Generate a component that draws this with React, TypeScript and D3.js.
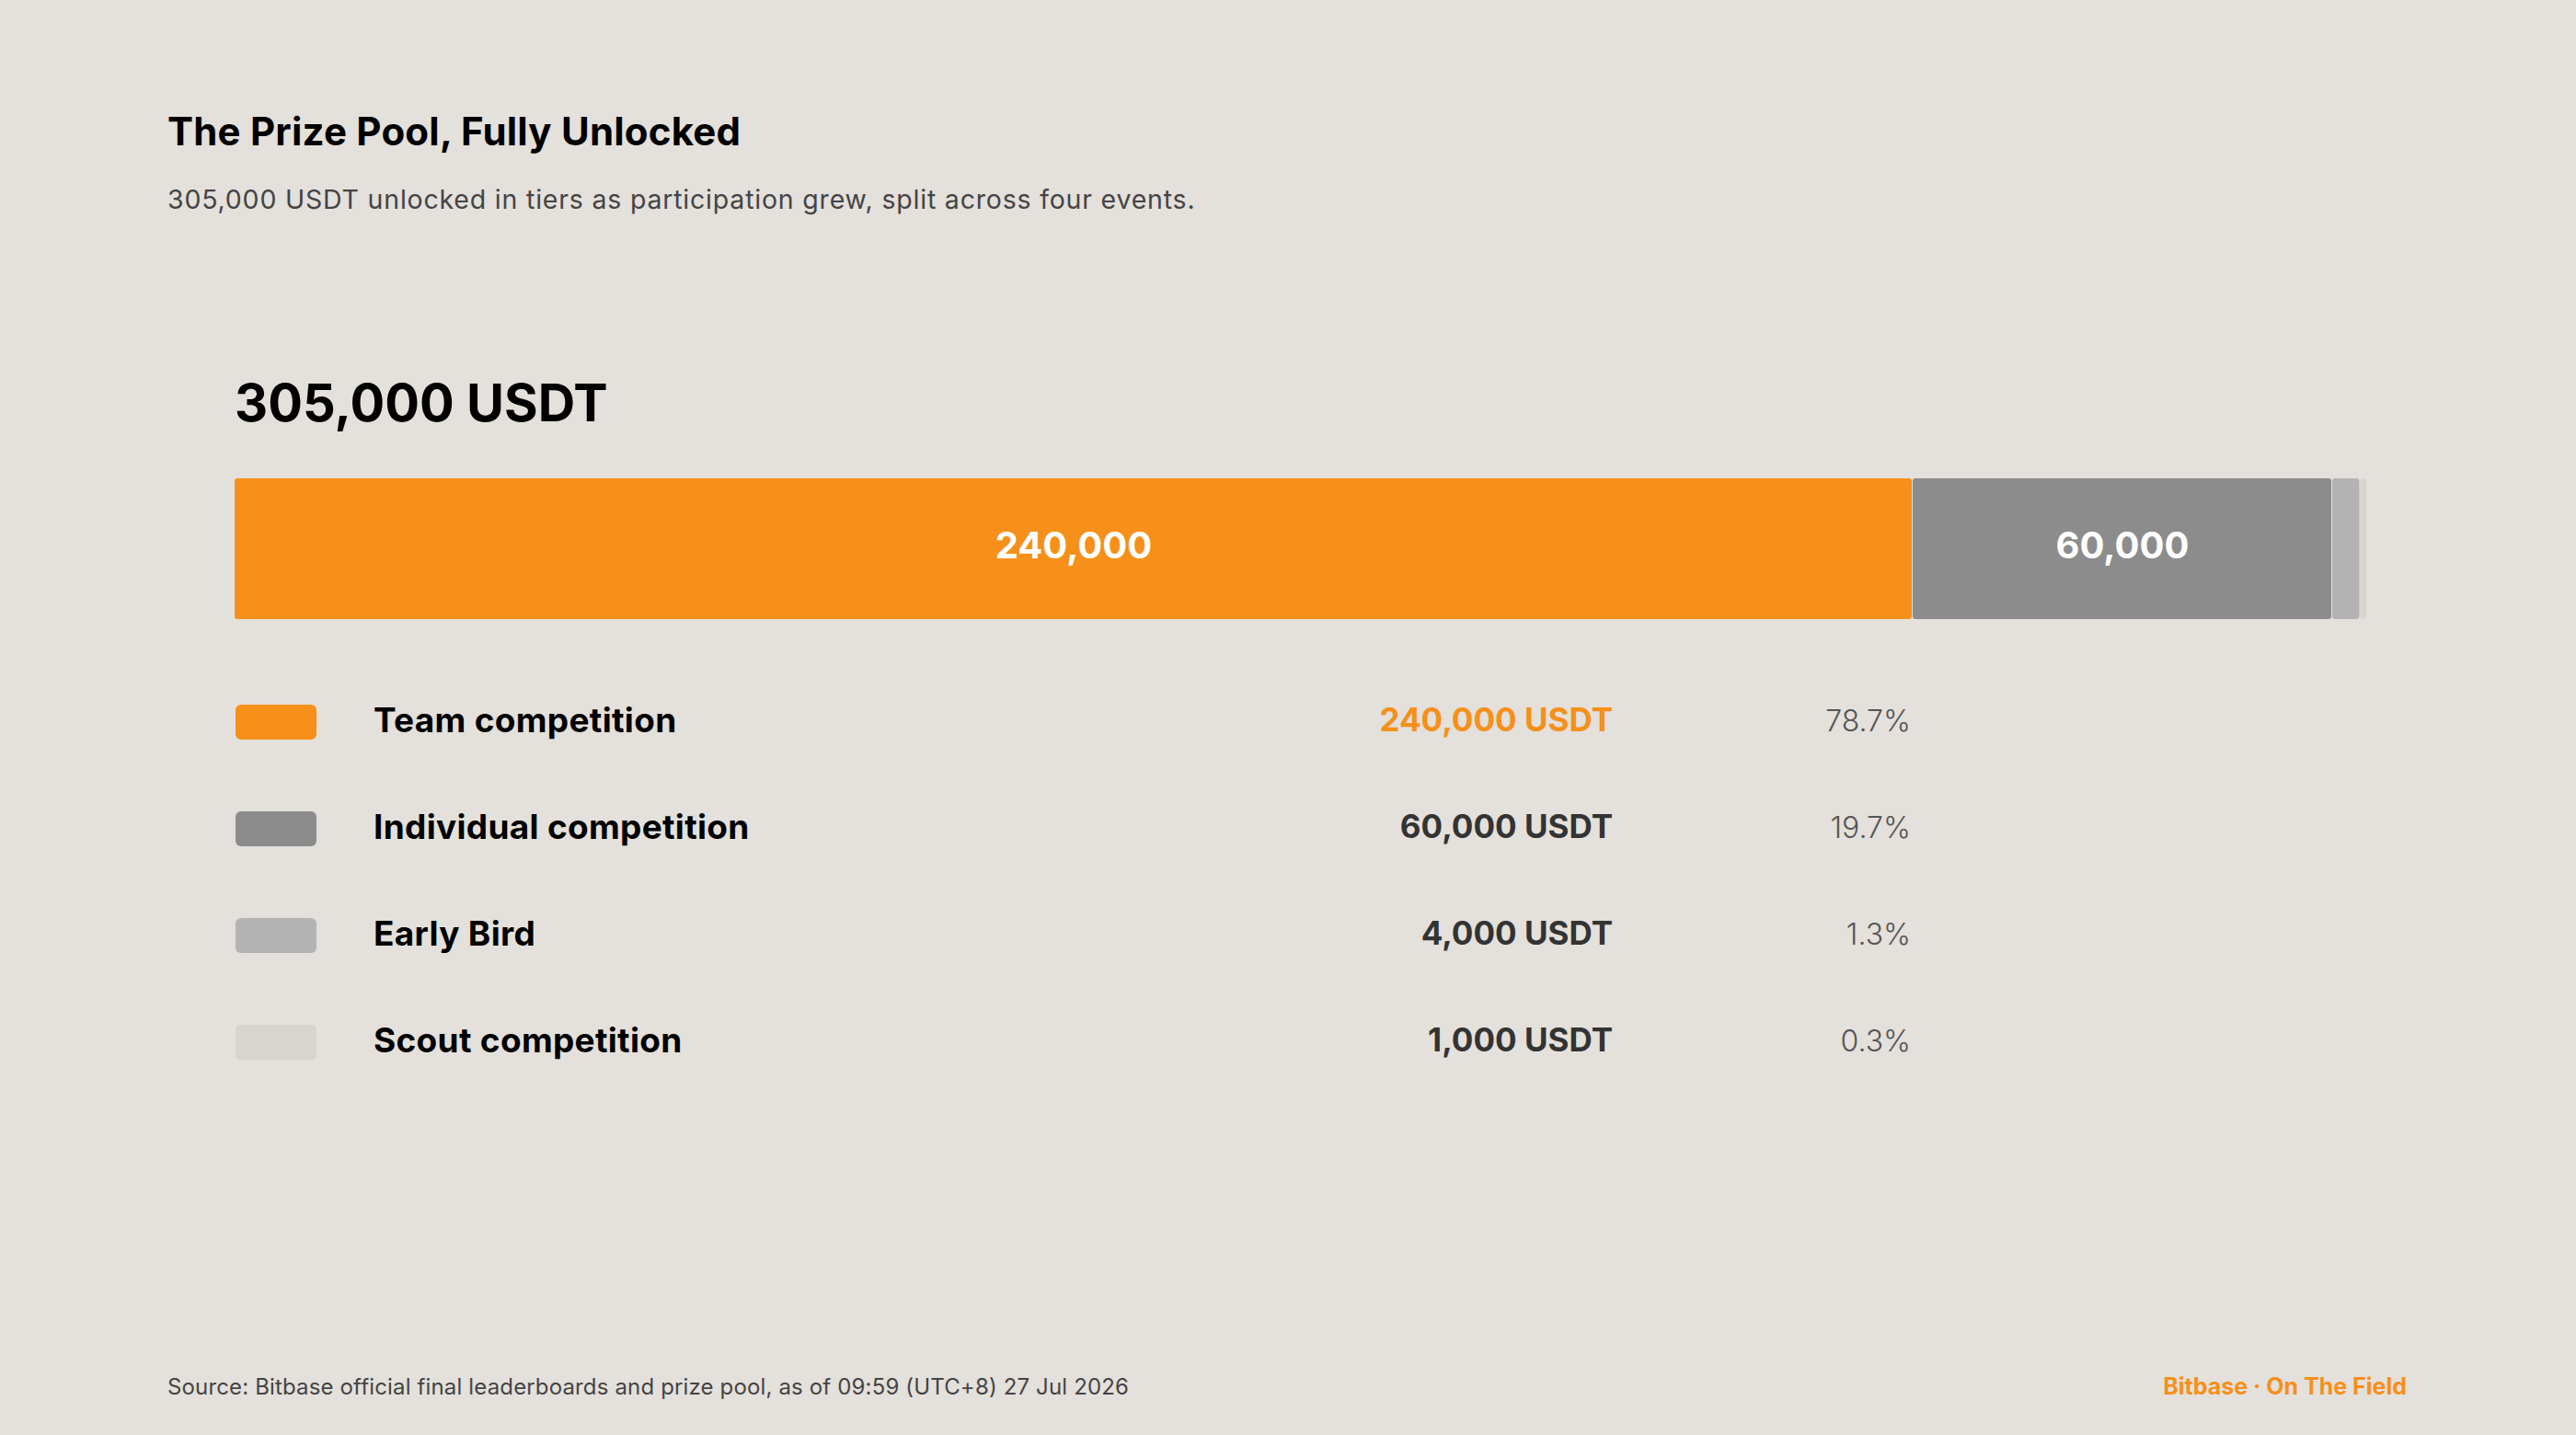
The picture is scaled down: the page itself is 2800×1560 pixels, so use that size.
import React from "react";
import * as d3 from "d3";

// prize pool split by event
const events = ["Team competition", "Individual competition", "Early Bird", "Scout competition"];
const prizes = [240000, 60000, 4000, 1000];
const palette = ["#F6901A", "#8C8C8C", "#B3B3B3", "#D8D4CF"];
const valueColors = ["#F6901A", "#333333", "#333333", "#333333"];

const title = "The Prize Pool, Fully Unlocked";
const subtitle = "305,000 USDT unlocked in tiers as participation grew, split across four events.";
const source = "Source: Bitbase official final leaderboards and prize pool, as of 09:59 (UTC+8) 27 Jul 2026";
const brand = "Bitbase · On The Field";

const W = 2800;
const H = 1560;
const FONT = "Inter, 'Open Sans', sans-serif";

const fmtInt = d3.format(",");
const fmtPct = d3.format(".1%");

export default function App() {
  const total = d3.sum(prizes);
  const stacked = prizes.map((v, i) => ({
    name: events[i],
    value: v,
    x0: d3.sum(prizes.slice(0, i)),
    x1: d3.sum(prizes.slice(0, i + 1)),
  }));

  const x = d3.scaleLinear().domain([0, total]).range([255, 2573]);
  const color = d3.scaleOrdinal<string, string>().domain(events).range(palette);
  const rows = d3.scalePoint<string>().domain(events).range([785, 1133]);

  const barTop = 520;
  const barH = 153;

  return (
    <svg
      width={W}
      height={H}
      style={{ position: "fixed", left: 0, top: 0, background: "#E4E0DB" }}
      fontFamily={FONT}
    >
      <rect width={W} height={H} fill="#E4E0DB" />

      <text x={182} y={158} fontSize={42} fontWeight={700} fill="#000" letterSpacing={0.2}>
        {title}
      </text>
      <text x={182} y={227} fontSize={28.5} fontWeight={400} fill="#444" letterSpacing={0.8}>
        {subtitle}
      </text>

      <text x={255} y={458} fontSize={56} fontWeight={700} fill="#000">
        {fmtInt(total)} USDT
      </text>

      {/* stacked bar */}
      <g>
        {stacked.map((d) => {
          const w = Math.max(0, x(d.x1) - x(d.x0) - 1);
          return (
            <rect
              key={d.name}
              x={x(d.x0)}
              y={barTop}
              width={w}
              height={barH}
              rx={3}
              fill={color(d.name)}
            />
          );
        })}
        {stacked
          .filter((d) => x(d.x1) - x(d.x0) > 200)
          .map((d) => (
            <text
              key={d.name}
              x={(x(d.x0) + x(d.x1)) / 2}
              y={barTop + 87}
              textAnchor="middle"
              fontSize={40}
              fontWeight={700}
              fill="#fff"
            >
              {fmtInt(d.value)}
            </text>
          ))}
      </g>

      {/* legend table */}
      <g>
        {stacked.map((d, i) => {
          const cy = rows(d.name)!;
          return (
            <g key={d.name}>
              <rect x={256} y={cy - 19} width={88} height={38} rx={6} fill={color(d.name)} />
              <text x={406} y={cy + 11} fontSize={37} fontWeight={700} fill="#000" letterSpacing={0.3}>
                {d.name}
              </text>
              <text
                x={1753}
                y={cy + 10}
                textAnchor="end"
                fontSize={35}
                fontWeight={700}
                fill={valueColors[i]}
              >
                {fmtInt(d.value)} USDT
              </text>
              <text x={2077} y={cy + 10} textAnchor="end" fontSize={32} fontWeight={300} fill="#555">
                {fmtPct(d.value / total)}
              </text>
            </g>
          );
        })}
      </g>

      <text x={182} y={1516} fontSize={24} fill="#444" letterSpacing={0.15}>
        {source}
      </text>
      <text x={2616} y={1516} textAnchor="end" fontSize={25} fontWeight={700} fill="#F6901A">
        {brand}
      </text>
    </svg>
  );
}
